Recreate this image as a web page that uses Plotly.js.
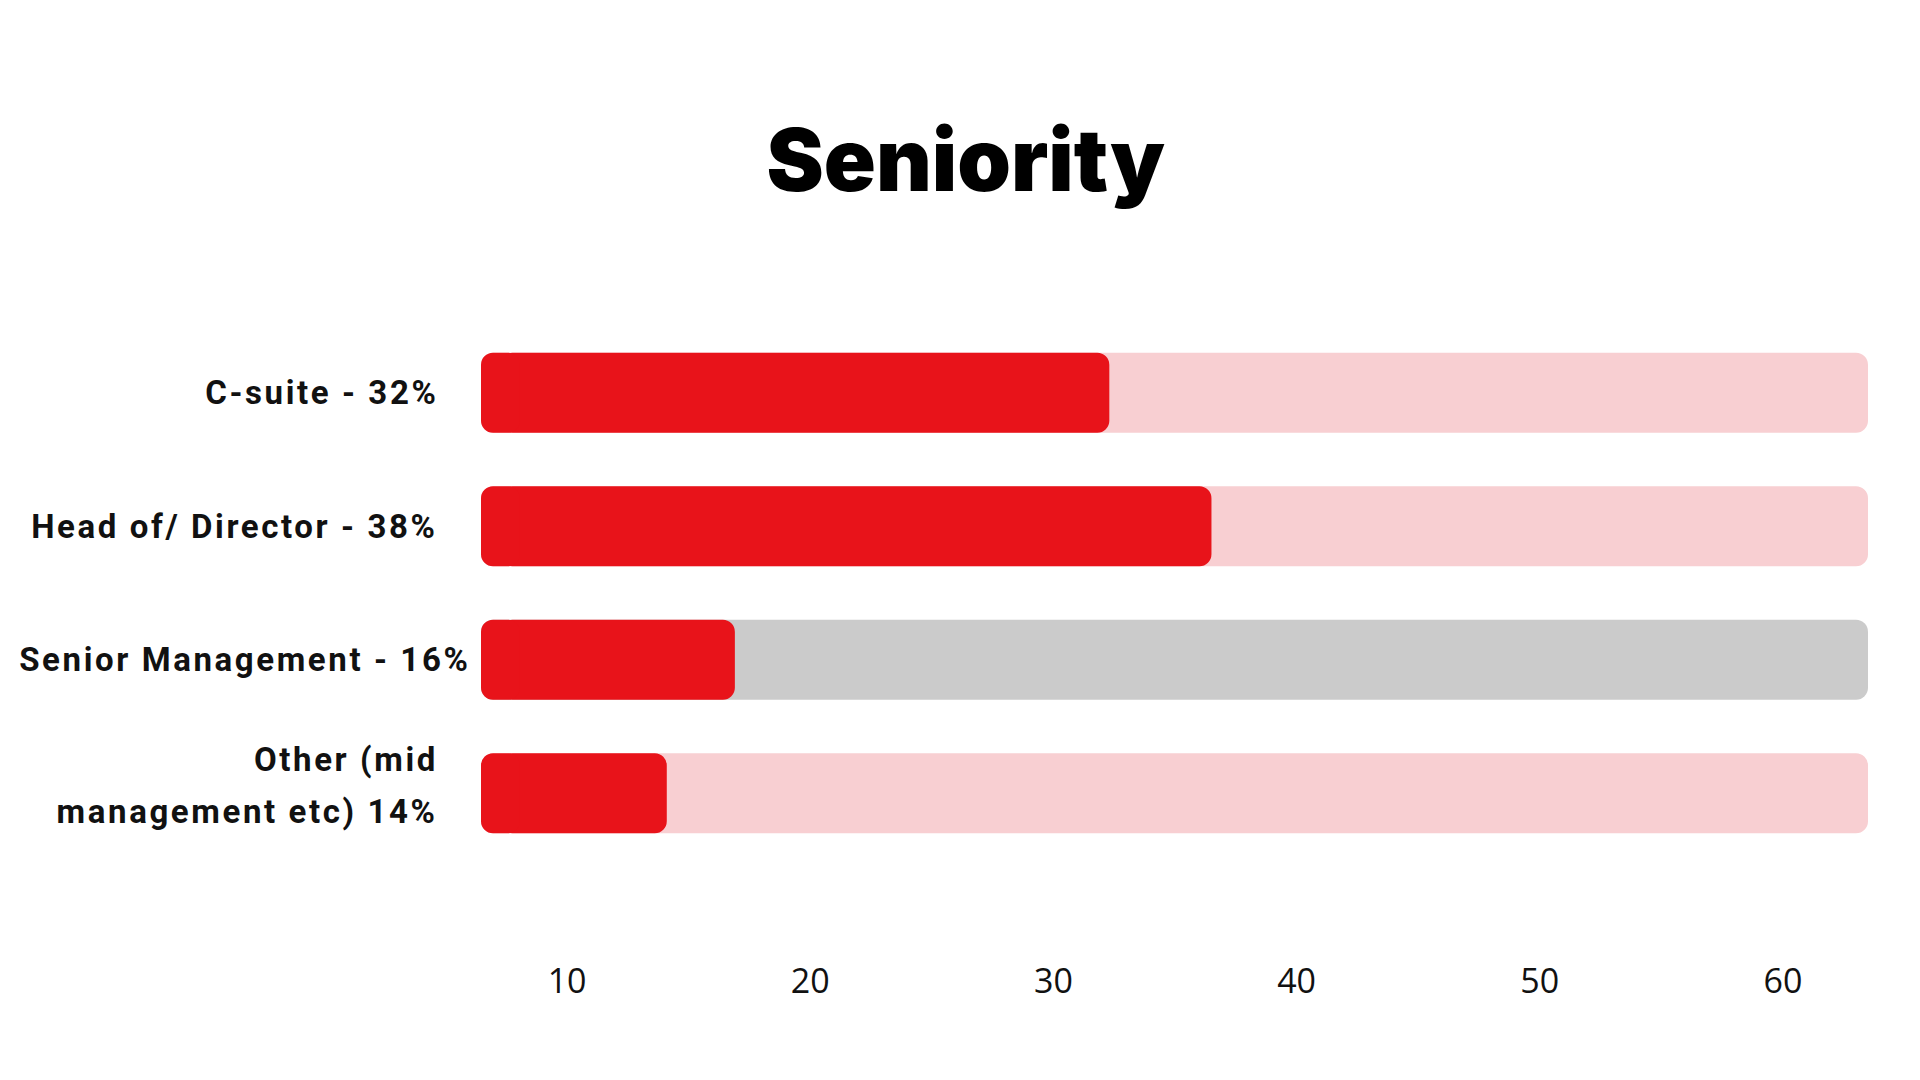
<!DOCTYPE html>
<html>
<head>
<meta charset="utf-8">
<script src="https://cdn.plot.ly/plotly-3.0.1.min.js"></script>
<style>
  html, body { margin: 0; padding: 0; background: #ffffff; }
  #chart { width: 1920px; height: 1080px; }
  #chart .annotation-text { letter-spacing: 2.6px; }
</style>
</head>
<body>
<div id="chart"></div>
<script>
// ---- data ----
var categories = ["C-suite", "Head of/ Director", "Senior Management", "Other"];
var labels = ["C-suite - 32%", "Head of/ Director - 38%", "Senior Management - 16%", "Other (mid<br>management etc) 14%"];
var barValues = [32.3, 36.5, 16.9, 14.1];   // where each red bar ends on the axis
var axisStart = 6.46;                         // left edge of the bars / axis
var axisEnd = 63.5;                           // right edge of the track
var tickValues = [10, 20, 30, 40, 50, 60];
var tickLabels = ["10", "20", "30", "40", "50", "60"];

// ---- styles ----
var red = "#E8131A";
var trackColors = ["#F8CFD2", "#F8CFD2", "#CBCBCB", "#F8CFD2"];
var labelShift = [-41, -41, -9, -41];
var lineGap = 52;
var capLen = 1.6;   // length (axis units) of the small piece that rounds the left end
var labelFont = { family: "Roboto, sans-serif", size: 33, weight: 700, color: "#111111" };

var trackTrace = {
  type: "bar",
  orientation: "h",
  y: categories,
  x: categories.map(function () { return axisEnd - axisStart; }),
  base: axisStart,
  marker: { color: trackColors, cornerradius: 12, line: { width: 0 } },
  hoverinfo: "skip",
  showlegend: false
};

// main red bar (rounded at its right end)
var valueTrace = {
  type: "bar",
  orientation: "h",
  y: categories,
  base: barValues.map(function () { return axisStart + capLen / 2; }),
  x: barValues.map(function (v) { return v - axisStart - capLen / 2; }),
  marker: { color: red, cornerradius: 12, line: { width: 0 } },
  hoverinfo: "skip",
  showlegend: false
};
// short red cap drawn leftwards so the left end is rounded too
var leftCap = {
  type: "bar",
  orientation: "h",
  y: categories,
  base: barValues.map(function () { return axisStart + capLen; }),
  x: barValues.map(function () { return -capLen; }),
  marker: { color: red, cornerradius: 12, line: { width: 0 } },
  hoverinfo: "skip",
  showlegend: false
};

var annotations = [];
categories.forEach(function (c, i) {
  var lines = labels[i].split("<br>");
  lines.forEach(function (ln, k) {
    annotations.push({
      xref: "paper", yref: "y",
      x: 0, y: c,
      xanchor: "right", yanchor: "middle",
      xshift: labelShift[i],
      yshift: ((lines.length - 1) / 2 - k) * lineGap + (lines.length > 1 ? 8 : 0),
      align: "right",
      showarrow: false,
      text: ln,
      font: labelFont
    });
  });
});

var layout = {
  width: 1920,
  height: 1080,
  paper_bgcolor: "#ffffff",
  plot_bgcolor: "#ffffff",
  margin: { l: 481, r: 52, t: 326, b: 220 },
  barmode: "overlay",
  bargap: 0.4,
  title: {
    text: "Seniority",
    x: 0.503,
    xanchor: "center",
    y: 0.851,
    yanchor: "middle",
    font: { family: "Inter, Roboto, sans-serif", size: 86, weight: 900, color: "#000000" }
  },
  xaxis: {
    range: [axisStart, axisEnd],
    tickmode: "array",
    tickvals: tickValues,
    ticktext: tickLabels,
    showgrid: false,
    zeroline: false,
    showline: false,
    ticks: "",
    ticklabelstandoff: 98,
    tickfont: { family: "Open Sans, sans-serif", size: 34, color: "#111111" },
    fixedrange: true
  },
  yaxis: {
    type: "category",
    autorange: "reversed",
    showticklabels: false,
    showgrid: false,
    zeroline: false,
    showline: false,
    ticks: "",
    fixedrange: true
  },
  annotations: annotations
};

Plotly.newPlot("chart", [trackTrace, valueTrace, leftCap], layout, { displayModeBar: false, staticPlot: true });
</script>
</body>
</html>
